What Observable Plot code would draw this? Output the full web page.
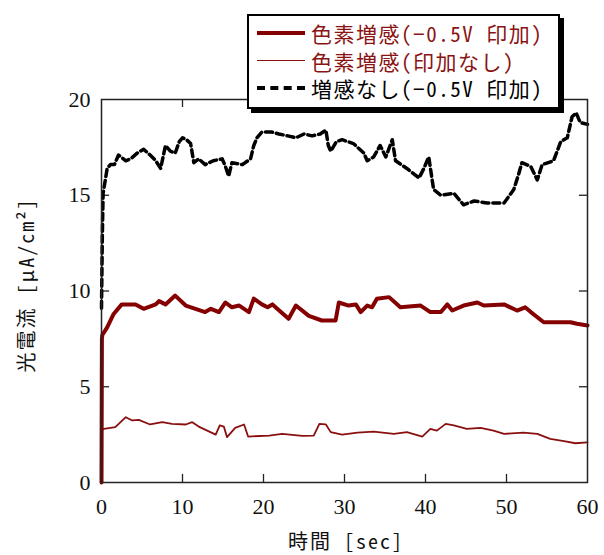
<!DOCTYPE html>
<html><head><meta charset="utf-8">
<script src="https://cdn.jsdelivr.net/npm/d3@7"></script>
<script src="https://cdn.jsdelivr.net/npm/@observablehq/plot@0.6"></script>
<style>
body{margin:0;background:#fff;}
#wrap{position:relative;width:604px;height:555px;overflow:hidden;}
#legend{position:absolute;left:247px;top:14px;width:309px;height:91px;border:2px solid #000;box-shadow:4px 4px 0 #000;background:#fff;font-family:"Noto Sans CJK JP",sans-serif;font-size:21px;font-feature-settings:"hwid";letter-spacing:1.5px;}
.row{position:absolute;left:8px;height:28px;display:flex;align-items:center;white-space:nowrap;}
.sw{width:48px;margin-right:6px;}
.lab{position:absolute;font-family:"Noto Sans CJK JP",sans-serif;font-size:20px;line-height:20px;color:#111;white-space:nowrap;font-feature-settings:"hwid";}
</style></head>
<body><div id="wrap"></div>
<script>
const seriesNames = ["色素増感(−0.5V 印加)", "色素増感(印加なし)", "増感なし(−0.5V 印加)"];
const seriesColors = ["#850000", "#8a1010", "#000000"];
const xTicks = [0, 10, 20, 30, 40, 50, 60];
const yTicks = [0, 5, 10, 15, 20];

const tBias = [0,0.05,0.1,0.7,1.5,2.5,4.2,5.2,6.7,7.1,7.9,9.1,10.4,11.6,12.8,13.5,14.5,15.3,16.1,17.0,18.2,18.8,19.8,20.5,21.1,23.1,24.0,25.6,27.2,28.9,29.3,30.5,31.4,32.0,32.8,33.4,34.0,35.5,36.9,39.4,40.6,41.9,42.7,43.3,44.7,46.4,47.2,49.7,51.3,52.3,53.0,54.6,56.3,57.9,58.7,60.0];
const vBias = [0,7.5,7.7,8.1,8.8,9.3,9.3,9.07,9.3,9.47,9.3,9.76,9.24,9.07,8.9,9.07,8.9,9.4,9.15,9.24,8.9,9.6,9.3,9.15,9.3,8.55,9.24,8.7,8.46,8.46,9.4,9.24,9.3,8.9,9.24,9.15,9.6,9.68,9.15,9.24,8.9,8.9,9.3,8.98,9.24,9.4,9.24,9.3,8.98,9.15,8.9,8.37,8.37,8.37,8.29,8.2];

const tNoBias = [0,0.05,0.3,1.7,3.0,3.8,4.6,6.0,7.5,8.7,10.4,11.2,12.0,14.1,14.6,15.1,15.5,16.5,17.6,18.1,20.7,22.3,24.8,26.2,26.9,27.7,28.3,29.7,31.6,33.6,36.1,37.7,39.6,40.6,41.4,42.5,43.5,45.1,46.8,48.4,49.7,52.1,53.8,55.4,57.1,58.5,60.0];
const vNoBias = [0,2.75,2.8,2.89,3.41,3.24,3.27,3.03,3.15,3.06,3.03,3.15,2.92,2.5,2.98,2.92,2.37,2.85,3.03,2.4,2.45,2.54,2.43,2.45,3.06,3.03,2.63,2.5,2.6,2.66,2.54,2.63,2.4,2.8,2.71,3.06,2.98,2.8,2.85,2.71,2.54,2.6,2.54,2.28,2.16,2.05,2.1];

const tNoDye = [0,0.1,0.2,0.7,1.1,1.6,2.1,3.0,3.6,4.4,5.2,6.0,6.7,7.3,7.6,7.9,8.5,9.1,9.6,10.0,10.5,11.0,11.4,12.0,12.8,13.8,14.9,15.3,15.7,16.1,17.4,18.4,18.8,19.2,19.8,21.0,21.9,23.0,24.0,25.0,26.0,27.0,27.7,28.0,28.3,29.0,29.7,31.1,32.4,32.8,33.6,34.4,35.1,35.9,36.3,37.7,39.2,39.8,40.4,41.0,41.9,43.5,44.7,46.0,47.6,49.7,50.9,51.5,51.9,53.0,53.8,54.4,55.8,56.7,57.5,58.1,58.6,59.1,60.0];
const vNoDye = [9.1,12.8,15.1,16.4,16.6,16.6,17.1,16.8,16.9,17.2,17.4,17.1,16.8,16.4,17.0,17.6,17.3,17.2,17.8,18.0,17.9,17.7,16.7,16.9,16.6,16.8,16.9,16.5,16.0,16.7,16.6,16.9,17.6,18.0,18.3,18.3,18.2,18.1,18.0,18.2,18.1,18.2,18.4,17.6,17.3,17.8,17.9,17.7,17.2,16.8,17.0,17.6,17.0,17.9,16.8,16.4,15.9,16.4,17.0,15.3,15.0,15.1,14.5,14.7,14.6,14.6,15.3,16.1,16.7,16.5,15.8,16.6,16.8,17.8,18.0,19.1,19.3,18.8,18.7];

const zip = (t, v) => t.map((x, i) => ({t: x, v: v[i]}));
const dBias = zip(tBias, vBias), dNoBias = zip(tNoBias, vNoBias), dNoDye = zip(tNoDye, vNoDye);

const serif = "Liberation Serif";
const chart = Plot.plot({
  width: 604, height: 555,
  marginTop: 99, marginLeft: 101, marginRight: 17, marginBottom: 73,
  x: {domain: [0, 60], axis: null},
  y: {domain: [0, 20], axis: null},
  style: {background: "#fff"},
  marks: [
    Plot.text(xTicks, {x: d => d, y: 0, dy: 16, text: d => String(d), lineAnchor: "top", fontFamily: serif, fontSize: 22, fill: "#111"}),
    Plot.text(yTicks, {x: 0, y: d => d, dx: -11, text: d => String(d), textAnchor: "end", fontFamily: serif, fontSize: 22, fill: "#111"}),
    Plot.ruleX(xTicks.slice(1, -1), {x: d => d, y1: 0, y2: 0.42, stroke: "#222", strokeWidth: 1.3}),
    Plot.ruleX(xTicks.slice(1, -1), {x: d => d, y1: 20, y2: 19.58, stroke: "#222", strokeWidth: 1.3}),
    Plot.ruleY(yTicks.slice(1, -1), {y: d => d, x1: 0, x2: 1, stroke: "#222", strokeWidth: 1.3}),
    Plot.ruleY(yTicks.slice(1, -1), {y: d => d, x1: 60, x2: 59, stroke: "#222", strokeWidth: 1.3}),
    Plot.line(dNoBias, {x: "t", y: "v", stroke: seriesColors[1], strokeWidth: 1.8}),
    Plot.line(dBias, {x: "t", y: "v", stroke: seriesColors[0], strokeWidth: 4}),
    Plot.line(dNoDye, {x: "t", y: "v", stroke: seriesColors[2], strokeWidth: 3.5, strokeDasharray: "7,4"}),
    Plot.frame({stroke: "#222", strokeWidth: 1.5})
  ]
});
const wrap = document.getElementById("wrap");
wrap.appendChild(chart);

const legend = document.createElement("div");
legend.id = "legend";
const swatchStyles = [
  `border-top:4px solid ${seriesColors[0]}`,
  `border-top:1.5px solid ${seriesColors[1]}`,
  `border-top:4px dashed ${seriesColors[2]}`
];
const textColors = ["#8a1414", "#8a1414", "#000"];
seriesNames.forEach((name, i) => {
  const row = document.createElement("div");
  row.className = "row";
  row.style.top = (3 + i * 27.5) + "px";
  row.innerHTML = `<span class="sw" style="${swatchStyles[i]}"></span><span style="color:${textColors[i]}">${name}</span>`;
  legend.appendChild(row);
});
wrap.appendChild(legend);

const xl = document.createElement("div");
xl.className = "lab"; xl.textContent = "時間 [sec]";
xl.style.letterSpacing = "2px";
xl.style.left = "346px"; xl.style.top = "531px"; xl.style.transform = "translateX(-50%)";
wrap.appendChild(xl);
const yl = document.createElement("div");
yl.className = "lab"; yl.textContent = "光電流 [μA/cm²]";
yl.style.letterSpacing = "2px";
yl.style.left = "26px"; yl.style.top = "285px"; yl.style.transform = "translate(-50%,-50%) rotate(-90deg)";
wrap.appendChild(yl);
</script></body></html>
